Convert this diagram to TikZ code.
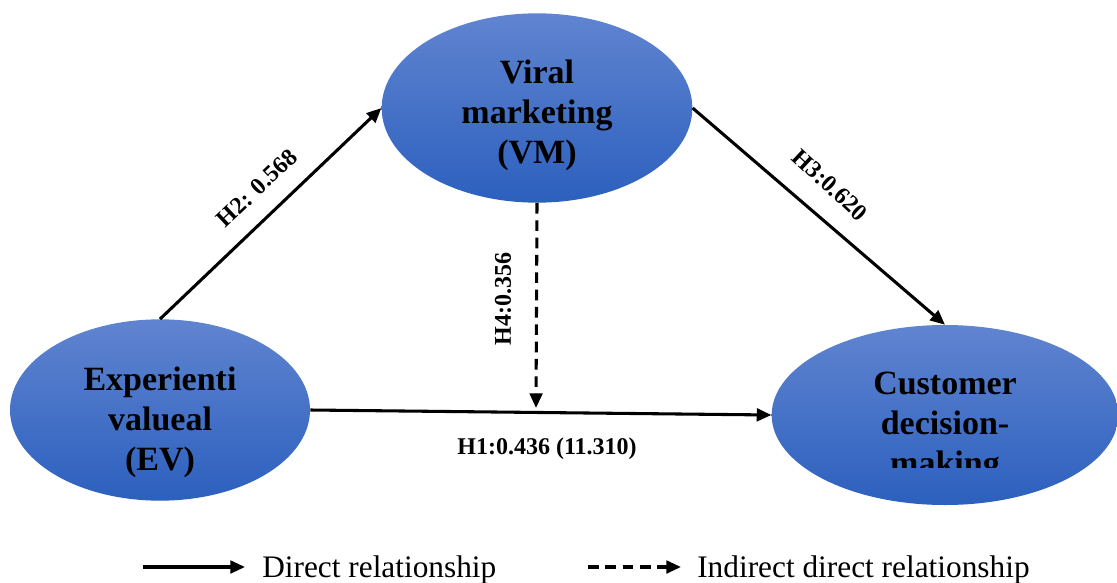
\documentclass[tikz,border=0pt]{standalone}
\usepackage{fontspec}
\setmainfont{Liberation Serif}
\usetikzlibrary{shapes.geometric,arrows.meta}

\definecolor{ovaltop}{RGB}{96,132,208}
\definecolor{ovalbot}{RGB}{44,96,190}

\tikzset{
  oval/.style={ellipse, inner sep=0pt, draw=none, top color=ovaltop, bottom color=ovalbot},
  ovaltext/.style={align=center, inner sep=0pt, font=\fontsize{25.5}{30}\selectfont\bfseries},
  conn/.style={line width=2.3pt, -{Triangle[length=11pt,width=9.5pt]}},
  hyp/.style={inner sep=0pt, font=\fontsize{18}{20}\selectfont\bfseries},
  legtext/.style={anchor=base west, inner sep=0pt, font=\fontsize{23.5}{26}\selectfont}
}

\begin{document}
\begin{tikzpicture}[x=0.75pt,y=0.75pt,yscale=-1,xscale=1]
\useasboundingbox (0,0) rectangle (1117,582);

%Shape: Ellipse [EV]
\node [oval, minimum width=225pt, minimum height=136pt] (ev) at (160,410) {};
\node [ovaltext] (evtext) at (160,422) {Experienti\\valueal\\(EV)};
%Shape: Ellipse [VM]
\node [oval, minimum width=233pt, minimum height=142pt] (vm) at (537,108) {};
\node [ovaltext] (vmtext) at (537,115) {Viral\\marketing\\(VM)};
%Shape: Ellipse [CDM]
\node [oval, minimum width=260pt, minimum height=135pt] (cdm) at (945,415) {};
\begin{scope}
\clip (775,330) rectangle (1117,467);
\node [ovaltext] (cdmtext) at (945,427) {Customer\\decision-\\making};
\end{scope}

% Paths
\draw [conn] (ev.north) -- (vm.west);
\draw [conn] (vm.east) -- (cdm.north);
\draw [conn] (ev.east) -- (cdm.west);
\coordinate (h4end) at (536,408);
\draw [conn, dash pattern={on 8pt off 5pt}] (vm.south) -- (h4end);

% Text Node
\node [hyp, rotate=43.5] (h2lbl) at (257,188) {H2: 0.568};
% Text Node
\node [hyp, rotate=-43] (h3lbl) at (830,185) {H3:0.620};
% Text Node
\node [hyp, rotate=90] (h4lbl) at (503,299) {H4:0.356};
% Text Node
\node [hyp] (h1lbl) at (547,449) {H1:0.436 (11.310)};

% Legend
\coordinate (dirA) at (143,567);
\coordinate (dirB) at (245,567);
\draw [conn] (dirA) -- (dirB);
\node [legtext] (dirlbl) at (262,577) {Direct relationship};
\coordinate (indA) at (588,567);
\coordinate (indB) at (681,567);
\draw [conn, dash pattern={on 8pt off 5pt}] (indA) -- (indB);
\node [legtext] (indlbl) at (697,577) {Indirect direct relationship};

\end{tikzpicture}
\end{document}
